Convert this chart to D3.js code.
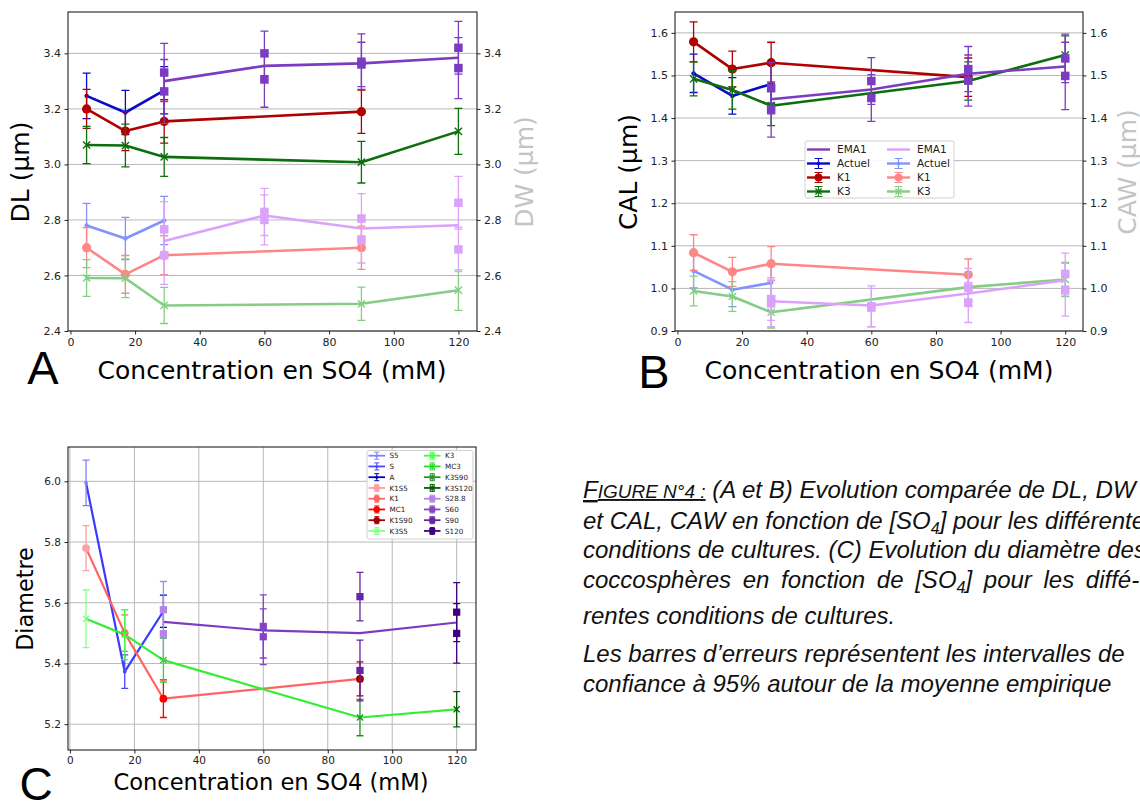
<!DOCTYPE html>
<html><head><meta charset="utf-8">
<script src="https://cdn.jsdelivr.net/npm/d3@7"></script>
<style>body{margin:0;background:#fff}svg{display:block}</style>
</head><body>
<svg id="fig" width="1140" height="803"></svg>
<script>
// ---------- data ----------
const concActuel = [5, 17, 29];
const concK1 = [5, 17, 29, 90];
const concK3 = [5, 17, 29, 90, 120];
const concEma = [29, 60, 90, 120];
const concEmaPts = [29, 29, 60, 60, 90, 90, 120, 120];
const concTicks = [0, 20, 40, 60, 80, 100, 120];

// Panel A — DL (left axis)
const dlActuel = [3.247, 3.187, 3.267];
const dlActuelErr = [0.082, 0.080, 0.085];
const dlK1 = [3.200, 3.120, 3.155, 3.190];
const dlK1Err = [0.070, 0.070, 0.078, 0.078];
const dlK3 = [3.070, 3.068, 3.027, 3.008, 3.119];
const dlK3Err = [0.067, 0.077, 0.070, 0.075, 0.083];
const dlEma = [3.300, 3.355, 3.364, 3.384];
const dlEmaPts = [3.331, 3.263, 3.400, 3.306, 3.370, 3.360, 3.420, 3.347];
const dlEmaPtsErr = [0.105, 0.115, 0.080, 0.100, 0.100, 0.080, 0.095, 0.110];
// Panel A — DW (right axis)
const dwActuel = [2.780, 2.733, 2.798];
const dwActuelErr = [0.080, 0.076, 0.087];
const dwK1 = [2.700, 2.604, 2.673, 2.700];
const dwK1Err = [0.072, 0.068, 0.070, 0.078];
const dwK3 = [2.591, 2.590, 2.492, 2.498, 2.547];
const dwK3Err = [0.066, 0.070, 0.065, 0.060, 0.073];
const dwEma = [2.724, 2.816, 2.769, 2.781];
const dwEmaPts = [2.766, 2.673, 2.829, 2.800, 2.805, 2.730, 2.862, 2.694];
const dwEmaPtsErr = [0.100, 0.105, 0.085, 0.090, 0.090, 0.085, 0.095, 0.080];
const dTicks = [2.4, 2.6, 2.8, 3.0, 3.2, 3.4];

// Panel B — CAL (left axis)
const calActuel = [1.505, 1.452, 1.480];
const calActuelErr = [0.045, 0.043, 0.045];
const calK1 = [1.579, 1.515, 1.530, 1.496];
const calK1Err = [0.047, 0.042, 0.048, 0.045];
const calK3 = [1.492, 1.466, 1.429, 1.487, 1.548];
const calK3Err = [0.040, 0.045, 0.047, 0.045, 0.045];
const calEma = [1.444, 1.467, 1.504, 1.521];
const calEmaPts = [1.470, 1.420, 1.487, 1.447, 1.515, 1.488, 1.540, 1.499];
const calEmaPtsErr = [0.060, 0.065, 0.055, 0.055, 0.053, 0.060, 0.057, 0.079];
// Panel B — CAW (right axis)
const cawActuel = [1.041, 0.997, 1.013];
const cawActuelErr = [0.040, 0.040, 0.040];
const cawK1 = [1.084, 1.039, 1.058, 1.032];
const cawK1Err = [0.042, 0.034, 0.040, 0.037];
const cawK3 = [0.994, 0.981, 0.944, 1.003, 1.021];
const cawK3Err = [0.035, 0.035, 0.037, 0.033, 0.040];
const cawEma = [0.970, 0.960, 0.988, 1.019];
const cawEmaPts = [0.975, 0.965, 0.958, 0.955, 1.002, 0.967, 1.034, 0.997];
const cawEmaPtsErr = [0.050, 0.055, 0.048, 0.045, 0.045, 0.047, 0.049, 0.062];
const cTicks = [0.9, 1.0, 1.1, 1.2, 1.3, 1.4, 1.5, 1.6];

// Panel C — coccosphere diameter per culture
const sampleNames = ['S5', 'S', 'A', 'K1S5', 'K1', 'MC1', 'K1S90', 'K3S5',
                     'K3', 'MC3', 'K3S90', 'K3S120', 'S28.8', 'S60', 'S90', 'S120'];
const sampleConc = [5, 17, 29, 5, 17, 29, 90, 5, 17, 29, 90, 120, 29, 60, 90, 120];
const sampleDiam = [5.995, 5.373, 5.572, 5.780, 5.500, 5.284, 5.349, 5.547,
                    5.495, 5.411, 5.222, 5.249, 5.577, 5.522, 5.620, 5.569];
const sampleErr = [0.075, 0.055, 0.053, 0.074, 0.060, 0.062, 0.056, 0.095,
                   0.082, 0.072, 0.060, 0.058, 0.093, 0.104, 0.080, 0.097];
// second replicate of the S-series
const replicateConc = [29, 60, 90, 120];
const replicateDiam = [5.498, 5.488, 5.377, 5.499];
const replicateErr = [0.085, 0.092, 0.100, 0.098];
// mean curves
const diamS = [5.995, 5.373, 5.572];
const diamK1 = [5.780, 5.500, 5.284, 5.349];
const diamK3 = [5.547, 5.495, 5.411, 5.222, 5.249];
const diamEma = [5.537, 5.509, 5.500, 5.535];
const diamTicks = [5.2, 5.4, 5.6, 5.8, 6.0];

// ---------- styles ----------
const col = {
  purple: '#7b3cc2', blue: '#0a0ac8', red: '#b00000', green: '#0c6e0c',
  lpurple: '#dba2fb', lblue: '#8492ff', lred: '#ff8686', lgreen: '#85cd85'
};
const sampleColors = ['#8080ff', '#4848ff', '#0000c0', '#ffa0a0', '#ff6464', '#ff0000', '#a00000', '#88ff88',
                      '#40ff40', '#22dd22', '#229022', '#005a00', '#b184e6', '#8444c8', '#6424a8', '#40007e'];
const sampleMarkers = ['dot', 'dot', 'dot', 'o', 'o', 'o', 'o', 'x', 'x', 'x', 'x', 'x', 's', 's', 's', 's'];
const FONT = 'DejaVu Sans, sans-serif';

const svg = d3.select('#fig');
svg.append('rect').attr('width', 1140).attr('height', 803).attr('fill', '#fff');

function drawMarker(g, type, cx, cy, color, k) {
  k = k || 1;
  if (type === 'o') {
    g.append('circle').attr('cx', cx).attr('cy', cy).attr('r', 4.6 * k).attr('fill', color);
  } else if (type === 's') {
    const s = 8.5 * k;
    g.append('rect').attr('x', cx - s / 2).attr('y', cy - s / 2).attr('width', s).attr('height', s).attr('fill', color);
  } else if (type === 'x') {
    const s = 3.6 * k;
    g.append('path').attr('d', `M${cx - s},${cy - s}L${cx + s},${cy + s}M${cx - s},${cy + s}L${cx + s},${cy - s}`)
      .attr('stroke', color).attr('stroke-width', 1.4).attr('fill', 'none');
  } else if (type === 'dot') {
    g.append('circle').attr('cx', cx).attr('cy', cy).attr('r', 2.2 * k).attr('fill', color);
  }
}

function drawErr(g, x, y, cx, v, e, color, cap) {
  const px = x(cx);
  cap = cap || 4;
  g.append('path')
    .attr('d', `M${px},${y(v - e)}V${y(v + e)}M${px - cap},${y(v - e)}H${px + cap}M${px - cap},${y(v + e)}H${px + cap}`)
    .attr('stroke', color).attr('stroke-width', 1.3).attr('fill', 'none');
}

function drawLine(g, x, y, xs, ys, color, w) {
  g.append('path').datum(xs.map((c, i) => [c, ys[i]]))
    .attr('d', d3.line().x(d => x(d[0])).y(d => y(d[1])))
    .attr('stroke', color).attr('stroke-width', w || 2.6).attr('fill', 'none')
    .attr('stroke-linejoin', 'round');
}

// errorbar series: line + bars + markers
function series(g, x, y, xs, ys, errs, color, marker, lw) {
  drawLine(g, x, y, xs, ys, color, lw);
  xs.forEach((c, i) => drawErr(g, x, y, c, ys[i], errs[i], color));
  xs.forEach((c, i) => drawMarker(g, marker, x(c), y(ys[i]), color));
}
function points(g, x, y, xs, ys, errs, color) {
  xs.forEach((c, i) => drawErr(g, x, y, c, ys[i], errs[i], color));
  xs.forEach((c, i) => drawMarker(g, 's', x(c), y(ys[i]), color));
}

function frame(o) {
  const x = d3.scaleLinear().domain(o.xDomain).range([o.left, o.right]);
  const y = d3.scaleLinear().domain(o.yDomain).range([o.bottom, o.top]);
  const g = svg.append('g');
  const grid = g.append('g').attr('stroke', '#b8b8b8').attr('stroke-width', 1);
  o.yTicks.forEach(t => grid.append('line').attr('x1', o.left).attr('x2', o.right).attr('y1', y(t)).attr('y2', y(t)));
  if (o.vgrid) concTicks.forEach(t => grid.append('line').attr('y1', o.top).attr('y2', o.bottom).attr('x1', x(t)).attr('x2', x(t)));
  const fs = o.tickFont;
  const xa = g.append('g').attr('transform', `translate(0,${o.bottom})`)
    .call(d3.axisBottom(x).tickValues(concTicks).tickSize(3.5).tickPadding(3.5).tickFormat(d3.format('d')));
  const ya = g.append('g').attr('transform', `translate(${o.left},0)`)
    .call(d3.axisLeft(y).tickValues(o.yTicks).tickSize(3.5).tickPadding(3.5).tickFormat(d3.format('.1f')));
  const axes = [xa, ya];
  if (o.rightAxis) {
    const ra = g.append('g').attr('transform', `translate(${o.right},0)`)
      .call(d3.axisRight(y).tickValues(o.yTicks).tickSize(3.5).tickPadding(3.5).tickFormat(d3.format('.1f')));
    axes.push(ra);
  }
  axes.forEach(a => {
    a.select('.domain').remove();
    a.selectAll('text').attr('font-family', FONT).attr('font-size', fs).attr('fill', '#222');
    a.selectAll('line').attr('stroke', '#222');
  });
  const plot = g.append('g');
  g.append('rect').attr('x', o.left).attr('y', o.top).attr('width', o.right - o.left).attr('height', o.bottom - o.top)
    .attr('fill', 'none').attr('stroke', '#222').attr('stroke-width', 1.1);
  return { g, plot, x, y };
}

function label(text, x, y, size, color, rot, family, anchor) {
  const t = svg.append('text').attr('x', x).attr('y', y).attr('font-family', family || FONT)
    .attr('font-size', size).attr('fill', color || '#000').attr('text-anchor', anchor || 'middle')
    .attr('dominant-baseline', rot ? 'central' : 'alphabetic').text(text);
  if (rot) t.attr('transform', `rotate(-90,${x},${y})`);
  return t;
}

// ---------- Panel A ----------
{
  const p = frame({ left: 68, right: 477, top: 12, bottom: 331, xDomain: [-0.75, 125.75], yDomain: [2.4, 3.549],
    yTicks: dTicks, tickFont: 11, rightAxis: true });
  const { plot, x, y } = p;
  series(plot, x, y, concActuel, dwActuel, dwActuelErr, col.lblue, 'dot');
  series(plot, x, y, concK1, dwK1, dwK1Err, col.lred, 'o');
  series(plot, x, y, concK3, dwK3, dwK3Err, col.lgreen, 'x');
  drawLine(plot, x, y, concEma, dwEma, col.lpurple);
  points(plot, x, y, concEmaPts, dwEmaPts, dwEmaPtsErr, col.lpurple);
  series(plot, x, y, concActuel, dlActuel, dlActuelErr, col.blue, 'dot');
  series(plot, x, y, concK1, dlK1, dlK1Err, col.red, 'o');
  series(plot, x, y, concK3, dlK3, dlK3Err, col.green, 'x');
  drawLine(plot, x, y, concEma, dlEma, col.purple);
  points(plot, x, y, concEmaPts, dlEmaPts, dlEmaPtsErr, col.purple);
  label('DL (µm)', 20, 172, 25, '#000', true);
  label('DW (µm)', 524, 172, 25, '#c4c4c4', true);
  label('Concentration en SO4 (mM)', 272, 379, 25);
  label('A', 43, 384, 47, '#000', false, 'Liberation Sans, Arial, sans-serif');
}

// ---------- Panel B ----------
{
  const p = frame({ left: 675, right: 1083, top: 12, bottom: 331, xDomain: [-0.75, 125.5], yDomain: [0.9, 1.649],
    yTicks: cTicks, tickFont: 11, rightAxis: true });
  const { plot, x, y } = p;
  series(plot, x, y, concActuel, cawActuel, cawActuelErr, col.lblue, 'dot');
  series(plot, x, y, concK1, cawK1, cawK1Err, col.lred, 'o');
  series(plot, x, y, concK3, cawK3, cawK3Err, col.lgreen, 'x');
  drawLine(plot, x, y, concEma, cawEma, col.lpurple);
  points(plot, x, y, concEmaPts, cawEmaPts, cawEmaPtsErr, col.lpurple);
  series(plot, x, y, concActuel, calActuel, calActuelErr, col.blue, 'dot');
  series(plot, x, y, concK1, calK1, calK1Err, col.red, 'o');
  series(plot, x, y, concK3, calK3, calK3Err, col.green, 'x');
  drawLine(plot, x, y, concEma, calEma, col.purple);
  points(plot, x, y, concEmaPts, calEmaPts, calEmaPtsErr, col.purple);

  // legend
  const lg = svg.append('g');
  lg.append('rect').attr('x', 805).attr('y', 141).attr('width', 149).attr('height', 57).attr('rx', 2)
    .attr('fill', '#fff').attr('fill-opacity', 0.9).attr('stroke', '#d0d0d0');
  const names = ['EMA1', 'Actuel', 'K1', 'K3'];
  const dark = [col.purple, col.blue, col.red, col.green];
  const light = [col.lpurple, col.lblue, col.lred, col.lgreen];
  const mk = [null, 'dot', 'o', 'x'];
  [[807, dark], [887, light]].forEach(([x0, cs]) => {
    names.forEach((n, i) => {
      const yy = 149.5 + i * 14;
      lg.append('line').attr('x1', x0).attr('x2', x0 + 23).attr('y1', yy).attr('y2', yy)
        .attr('stroke', cs[i]).attr('stroke-width', 2.4);
      if (mk[i]) {
        const cx = x0 + 11.5;
        lg.append('path').attr('d', `M${cx},${yy - 5}V${yy + 5}M${cx - 4},${yy - 5}H${cx + 4}M${cx - 4},${yy + 5}H${cx + 4}`)
          .attr('stroke', cs[i]).attr('stroke-width', 1.2).attr('fill', 'none');
        drawMarker(lg, mk[i], cx, yy, cs[i], 0.85);
      }
      lg.append('text').attr('x', x0 + 30).attr('y', yy + 3.8).attr('font-family', FONT).attr('font-size', 10.5)
        .attr('fill', '#222').text(n);
    });
  });
  label('CAL (µm)', 628, 172, 25, '#000', true);
  label('CAW (µm)', 1127, 172, 25, '#c4c4c4', true);
  label('Concentration en SO4 (mM)', 879, 379, 25);
  label('B', 654, 388, 47, '#000', false, 'Liberation Sans, Arial, sans-serif');
}

// ---------- Panel C ----------
{
  const p = frame({ left: 68, right: 476, top: 447, bottom: 750, xDomain: [-0.6, 126], yDomain: [5.115, 6.113],
    yTicks: diamTicks, tickFont: 10.5, vgrid: true });
  const { plot, x, y } = p;
  drawLine(plot, x, y, concActuel, diamS, '#3a3aff', 2.2);
  drawLine(plot, x, y, concK1, diamK1, '#ff6464', 2.2);
  drawLine(plot, x, y, concK3, diamK3, '#33ee33', 2.2);
  drawLine(plot, x, y, concEma, diamEma, '#7b3cc2', 2.2);
  sampleNames.forEach((n, i) => {
    drawErr(plot, x, y, sampleConc[i], sampleDiam[i], sampleErr[i], sampleColors[i], 3.5);
    drawMarker(plot, sampleMarkers[i], x(sampleConc[i]), y(sampleDiam[i]), sampleColors[i], 0.85);
  });
  replicateConc.forEach((c, i) => {
    const ci = 12 + i;
    drawErr(plot, x, y, c, replicateDiam[i], replicateErr[i], sampleColors[ci], 3.5);
    drawMarker(plot, 's', x(c), y(replicateDiam[i]), sampleColors[ci], 0.85);
  });

  // legend
  const lg = svg.append('g');
  lg.append('rect').attr('x', 367).attr('y', 450.5).attr('width', 106).attr('height', 88.5).attr('rx', 2)
    .attr('fill', '#fff').attr('fill-opacity', 0.9).attr('stroke', '#d0d0d0');
  sampleNames.forEach((n, i) => {
    const colI = Math.floor(i / 8), row = i % 8;
    const x0 = colI ? 424 : 368.5;
    const yy = 455.7 + row * 10.75;
    const c = sampleColors[i];
    lg.append('line').attr('x1', x0).attr('x2', x0 + 16.5).attr('y1', yy).attr('y2', yy).attr('stroke', c).attr('stroke-width', 1.8);
    const cx = x0 + 8.25;
    lg.append('path').attr('d', `M${cx},${yy - 3.5}V${yy + 3.5}M${cx - 2.5},${yy - 3.5}H${cx + 2.5}M${cx - 2.5},${yy + 3.5}H${cx + 2.5}`)
      .attr('stroke', c).attr('stroke-width', 1).attr('fill', 'none');
    drawMarker(lg, sampleMarkers[i], cx, yy, c, 0.7);
    lg.append('text').attr('x', x0 + 21).attr('y', yy + 2.6).attr('font-family', FONT).attr('font-size', 7.2)
      .attr('fill', '#222').text(n);
  });
  label('Diametre', 25, 599, 22.3, '#000', true);
  label('Concentration en SO4 (mM)', 271, 790, 22.6);
  label('C', 36, 800, 46, '#000', false, 'Liberation Sans, Arial, sans-serif');
}

// ---------- caption ----------
{
  const cap = svg.append('g').attr('font-family', 'Liberation Sans, Arial, sans-serif').attr('font-size', 24)
    .attr('font-style', 'italic').attr('fill', '#111');
  const x0 = 583;
  const l1 = cap.append('text').attr('x', x0).attr('y', 498);
  const fig = l1.append('tspan').attr('text-decoration', 'underline');
  fig.append('tspan').text('F');
  fig.append('tspan').attr('font-size', 19).text('IGURE N°4 :');
  l1.append('tspan').text(' (A et B) Evolution comparée de DL, DW');
  const l2 = cap.append('text').attr('x', x0).attr('y', 529);
  l2.append('tspan').text('et CAL, CAW en fonction de [SO');
  l2.append('tspan').attr('font-size', 16).attr('dy', 5).text('4');
  l2.append('tspan').attr('dy', -5).text('] pour les différentes');
  cap.append('text').attr('x', x0).attr('y', 558).text('conditions de cultures. (C) Evolution du diamètre des');
  const l4 = cap.append('text').attr('x', x0).attr('y', 588).attr('word-spacing', 5);
  l4.append('tspan').text('coccosphères en fonction de [SO');
  l4.append('tspan').attr('font-size', 16).attr('dy', 5).text('4');
  l4.append('tspan').attr('dy', -5).text('] pour les diffé-');
  cap.append('text').attr('x', x0).attr('y', 624).text('rentes conditions de cultures.');
  cap.append('text').attr('x', x0).attr('y', 662).text('Les barres d’erreurs représentent les intervalles de');
  cap.append('text').attr('x', x0).attr('y', 692).text('confiance à 95% autour de la moyenne empirique');
}
</script>
</body></html>
